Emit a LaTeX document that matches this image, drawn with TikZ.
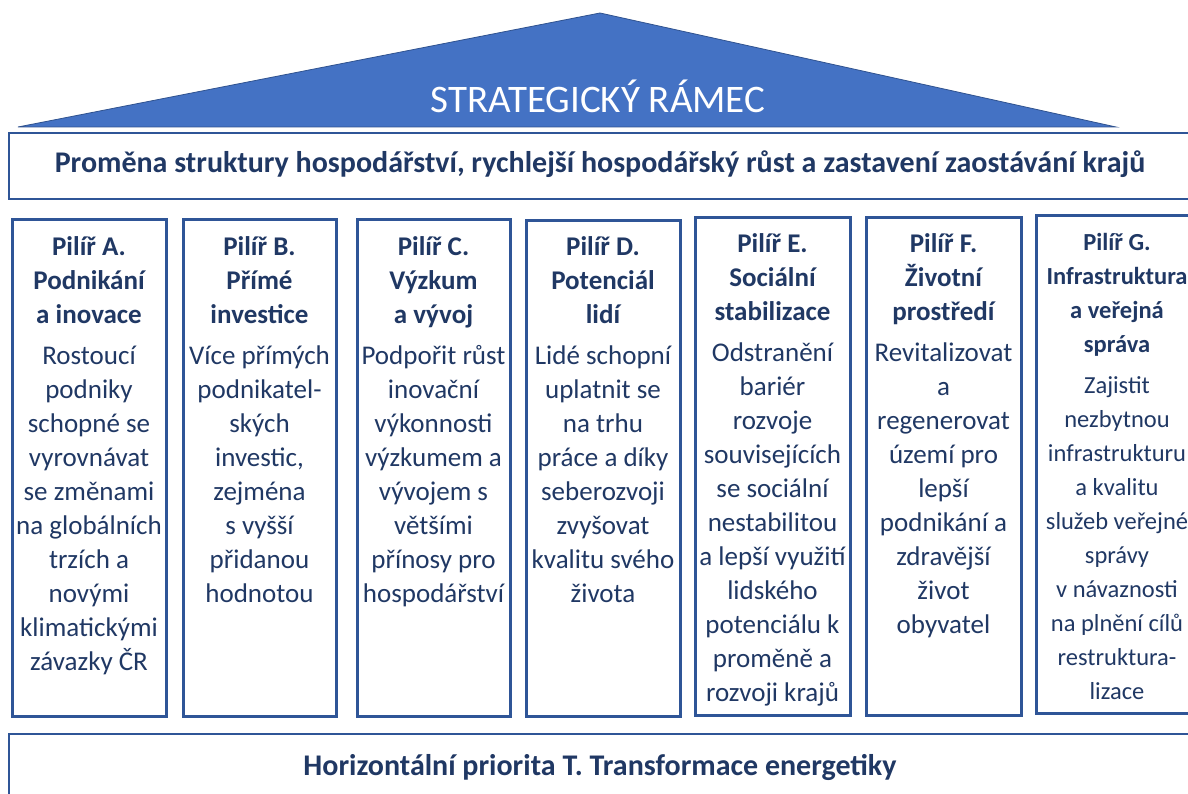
\documentclass[tikz,border=0pt]{standalone}
\usepackage{fontspec}
\setmainfont{Carlito}
\definecolor{navy}{HTML}{203864}
\definecolor{bord}{HTML}{2F5597}
\definecolor{tri}{HTML}{4472C4}
\definecolor{trib}{HTML}{2F528F}
\begin{document}
\begin{tikzpicture}[x=1pt,y=-1pt,
  pillar/.style={draw=bord, line width=3pt, inner sep=0pt, outer sep=0pt, anchor=north west, minimum height=496pt},
  ptext/.style={anchor=north, inner sep=0pt, align=flush center, text width=170pt, text=navy, font=\fontsize{27}{34}\selectfont},
  hbox/.style={draw=bord, line width=2.5pt, inner sep=0pt, outer sep=0pt, anchor=north west, minimum width=1200pt},
  htext/.style={text=navy, inner sep=0pt, font=\fontsize{30}{36}\selectfont\bfseries}]
\clip (0,0) rectangle (1188,794);
\fill[white] (0,0) rectangle (1188,794);
% roof
\coordinate (rl) at (18,127);
\coordinate (ra) at (600,13);
\coordinate (rr) at (1116,127);
\filldraw[fill=tri, draw=trib, line width=0.8pt] (rl) -- (ra) -- (rr) -- cycle;
\node[text=white, inner sep=0pt, font=\fontsize{39}{44}\selectfont] (roof) at (598,96) {STRATEGICKÝ RÁMEC};
% top band
\node[hbox, minimum height=66pt] (top) at (9,133) {};
\node[htext] (toptext) at (600,164) {Proměna struktury hospodářství, rychlejší hospodářský růst a zastavení zaostávání krajů};
% pillars
\node[pillar, minimum width=154pt] (pA) at (12,220) {};
\node[pillar, minimum width=153pt] (pB) at (183,220) {};
\node[pillar, minimum width=153pt] (pC) at (357,220) {};
\node[pillar, minimum width=154pt, minimum height=495pt] (pD) at (526,221) {};
\node[pillar, minimum width=155pt, minimum height=497pt] (pE) at (695,218) {};
\node[pillar, minimum width=155pt, minimum height=497pt] (pF) at (866,218) {};
\node[pillar, minimum width=170pt, minimum height=497pt] (pG) at (1036,216) {};
\node[ptext] (tA) at ([yshift=-11.7pt]pA.north) {\strut{\bfseries Pilíř A.\\Podnikání\\a inovace}\\[7pt]Rostoucí\\podniky\\schopné se\\vyrovnávat\\se změnami\\na globálních\\trzích a\\novými\\klimatickými\\závazky ČR};
\node[ptext] (tB) at ([yshift=-11.7pt]pB.north) {\strut{\bfseries Pilíř B.\\Přímé\\investice}\\[7pt]Více přímých\\podnikatel-\\ských\\investic,\\zejména\\s vyšší\\přidanou\\hodnotou};
\node[ptext] (tC) at ([yshift=-11.7pt]pC.north) {\strut{\bfseries Pilíř C.\\Výzkum\\a vývoj}\\[7pt]Podpořit růst\\inovační\\výkonnosti\\výzkumem a\\vývojem s\\většími\\přínosy pro\\hospodářství};
\node[ptext] (tD) at ([yshift=-10.7pt]pD.north) {\strut{\bfseries Pilíř D.\\Potenciál\\lidí}\\[7pt]Lidé schopní\\uplatnit se\\na trhu\\práce a díky\\seberozvoji\\zvyšovat\\kvalitu svého\\života};
\node[ptext] (tE) at ([yshift=-10.7pt]pE.north) {\strut{\bfseries Pilíř E.\\Sociální\\stabilizace}\\[7pt]Odstranění\\bariér\\rozvoje\\souvisejících\\se sociální\\nestabilitou\\a lepší využití\\lidského\\potenciálu k\\proměně a\\rozvoji krajů};
\node[ptext] (tF) at ([yshift=-10.7pt]pF.north) {\strut{\bfseries Pilíř F.\\Životní\\prostředí}\\[7pt]Revitalizovat\\a\\regenerovat\\území pro\\lepší\\podnikání a\\zdravější\\život\\obyvatel};
\node[ptext, font=\fontsize{24.5}{34}\selectfont] (tG) at ([yshift=-10.7pt, xshift=-4pt]pG.north) {\strut{\bfseries Pilíř G.\\Infrastruktura\\a veřejná\\správa}\\[7pt]Zajistit\\nezbytnou\\infrastrukturu\\a kvalitu\\služeb veřejné\\správy\\v návaznosti\\na plnění cílů\\restruktura-\\lizace};
% bottom band
\node[hbox, minimum height=80pt, line width=2pt] (bot) at (9,734) {};
\node[htext] (bottext) at (600,767) {Horizontální priorita T. Transformace energetiky};
\end{tikzpicture}
\end{document}
